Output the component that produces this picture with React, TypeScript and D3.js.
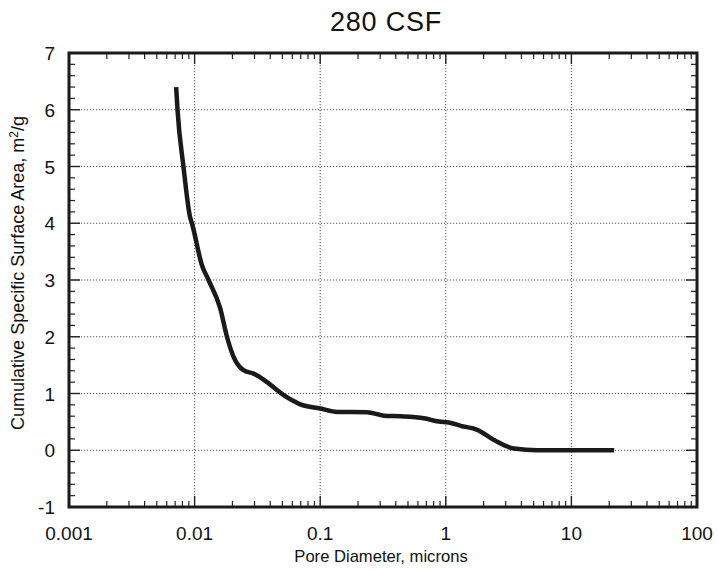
import React from "react";
import * as d3 from "d3";

const poreDiameter = [0.00713, 0.00731, 0.00815, 0.00922, 0.00952, 0.01144, 0.0129, 0.016, 0.0181, 0.0204, 0.0245, 0.0295, 0.0377, 0.0512, 0.0695, 0.1004, 0.1364, 0.2366, 0.321, 0.436, 0.669, 0.881, 1.059, 1.312, 1.783, 2.419, 3.49, 5.37, 21.9];
const surfaceArea = [6.4, 6.0, 5.0, 4.1, 4.0, 3.26, 3.0, 2.5, 2.0, 1.65, 1.41, 1.35, 1.2, 0.97, 0.81, 0.735, 0.675, 0.67, 0.61, 0.6, 0.565, 0.505, 0.49, 0.43, 0.36, 0.18, 0.03, 0.0, 0.0];
const xTicks = [0.001, 0.01, 0.1, 1, 10, 100];
const xTickLabels = ["0.001", "0.01", "0.1", "1", "10", "100"];
const yTicks = [-1, 0, 1, 2, 3, 4, 5, 6, 7];

const W = 719, H = 571;
const L = 69, R = 697, T = 53, B = 507;

export default function App() {
  const x = d3.scaleLog().domain([0.001, 100]).range([L, R]);
  const y = d3.scaleLinear().domain([-1, 7]).range([B, T]);
  const line = d3.line<number>().x((_, i) => x(poreDiameter[i])).y((d) => y(d)).curve(d3.curveMonotoneX);

  const minorX: number[] = [];
  for (let e = -3; e < 2; e++) for (let k = 2; k <= 9; k++) minorX.push(k * Math.pow(10, e));
  const minorY: number[] = [];
  for (let v = -1; v < 7; v++) for (let k = 1; k <= 4; k++) minorY.push(v + k * 0.2);
  const gridX = xTicks.slice(1, -1);
  const gridY = yTicks.slice(1, -1);
  const font = "'Liberation Sans', Arial, sans-serif";

  return (
    <svg width={W} height={H} style={{ position: "absolute", left: 0, top: 0, background: "#fff" }}>
      <rect x={0} y={0} width={W} height={H} fill="#fff" />
      {gridX.map((v) => (
        <line key={"gx" + v} x1={x(v)} x2={x(v)} y1={T} y2={B} stroke="#555" strokeWidth={1} strokeDasharray="1.2,1.8" />
      ))}
      {gridY.map((v) => (
        <line key={"gy" + v} x1={L} x2={R} y1={y(v)} y2={y(v)} stroke="#555" strokeWidth={1} strokeDasharray="1.2,1.8" />
      ))}
      {minorX.map((v) => (
        <g key={"mx" + v}>
          <line x1={x(v)} x2={x(v)} y1={B} y2={B - 6} stroke="#222" strokeWidth={1.2} />
          <line x1={x(v)} x2={x(v)} y1={T} y2={T + 6} stroke="#222" strokeWidth={1.2} />
        </g>
      ))}
      {xTicks.map((v) => (
        <g key={"Mx" + v}>
          <line x1={x(v)} x2={x(v)} y1={B} y2={B - 11} stroke="#222" strokeWidth={1.4} />
          <line x1={x(v)} x2={x(v)} y1={T} y2={T + 11} stroke="#222" strokeWidth={1.4} />
        </g>
      ))}
      {minorY.map((v) => (
        <g key={"my" + v}>
          <line x1={L} x2={L + 6} y1={y(v)} y2={y(v)} stroke="#222" strokeWidth={1.2} />
          <line x1={R} x2={R - 6} y1={y(v)} y2={y(v)} stroke="#222" strokeWidth={1.2} />
        </g>
      ))}
      {yTicks.map((v) => (
        <g key={"My" + v}>
          <line x1={L} x2={L + 11} y1={y(v)} y2={y(v)} stroke="#222" strokeWidth={1.4} />
          <line x1={R} x2={R - 11} y1={y(v)} y2={y(v)} stroke="#222" strokeWidth={1.4} />
        </g>
      ))}
      <rect x={L} y={T} width={R - L} height={B - T} fill="none" stroke="#1a1a1a" strokeWidth={3} />
      <path d={line(surfaceArea) || ""} fill="none" stroke="#1a1a1a" strokeWidth={4.5} strokeLinejoin="round" />
      {xTicks.map((v, i) => (
        <text key={"xl" + v} x={x(v)} y={540} textAnchor="middle" fontFamily={font} fontSize={19} fill="#111">
          {xTickLabels[i]}
        </text>
      ))}
      {yTicks.map((v) => (
        <text key={"yl" + v} x={55} y={y(v) + 7} textAnchor="end" fontFamily={font} fontSize={19} fill="#111">
          {String(v)}
        </text>
      ))}
      <text x={386} y={31} textAnchor="middle" fontFamily={font} fontSize={27} letterSpacing={0.8} fill="#111">280 CSF</text>
      <text x={381} y={562} textAnchor="middle" fontFamily={font} fontSize={16.6} fill="#111">Pore Diameter, microns</text>
      <text transform={`translate(24, 273) rotate(-90)`} textAnchor="middle" fontFamily={font} fontSize={18} fill="#111">
        Cumulative Specific Surface Area, m<tspan dy={-6} fontSize={12}>2</tspan><tspan dy={6}>/g</tspan>
      </text>
    </svg>
  );
}
